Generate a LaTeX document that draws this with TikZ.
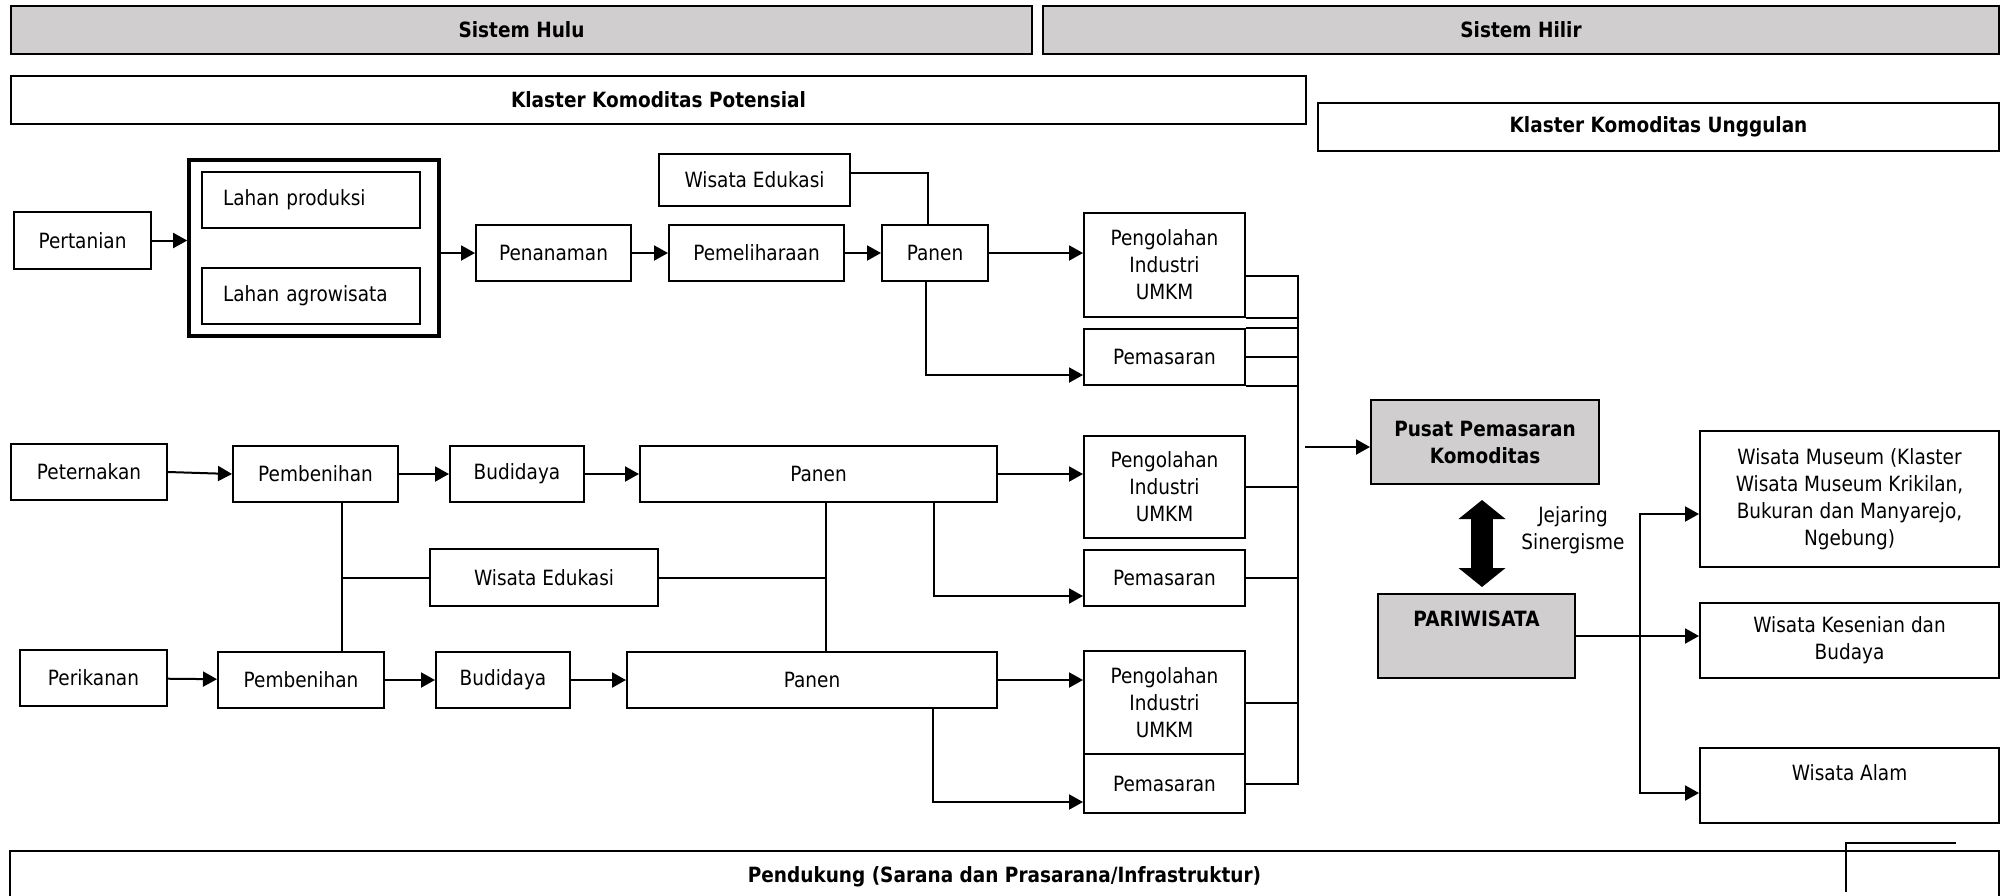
\documentclass[tikz,border=0pt]{standalone}
\usepackage{fontspec}
\setmainfont{DejaVu Sans}[FakeStretch=0.88]
\usepackage{tikz}
\usetikzlibrary{arrows.meta}
\definecolor{boxgrey}{RGB}{208,206,206}

\begin{document}
\begin{tikzpicture}[x=0.5pt,y=-0.5pt,
  font=\fontsize{10.5}{13.5}\selectfont,
  box/.style={draw,line width=1pt,align=center,inner sep=2pt},
  grey/.style={box,fill=boxgrey,font=\fontsize{10.5}{13.5}\selectfont\bfseries},
  head/.style={box,font=\fontsize{10.5}{13.5}\selectfont\bfseries},
  lahanbox/.style={box,text width=88pt,inner xsep=10.5pt,align=left,minimum height=28pt},
  link/.style={line width=1pt},
  arr/.style={link,-{Triangle[length=7pt,width=7.5pt]}},
  dbl/.style={line width=11pt,{Triangle[length=9.5pt,width=23pt]}-{Triangle[length=9.5pt,width=23pt]}}]
\useasboundingbox (0,0) rectangle (2006,895);
\clip (0,0) rectangle (2006,895);

\node[grey,minimum width=510.5pt,minimum height=24pt] (hulu) at (521.5,30) {Sistem Hulu};
\node[grey,minimum width=478pt,minimum height=24pt] (hilir) at (1521,30) {Sistem Hilir};
\node[head,minimum width=647.5pt,minimum height=24pt] (potensial) at (658.5,100) {Klaster Komoditas Potensial};
\node[head,minimum width=340.5pt,minimum height=24pt] (unggulan) at (1658.5,127) {Klaster Komoditas Unggulan};

\node[box,minimum width=68.5pt,minimum height=28.5pt] (pertanian) at (82.5,240.5) {Pertanian};
\node[draw,line width=1.8pt,minimum width=125pt,minimum height=88pt] (lahan) at (314,248) {};
\node[lahanbox] (produksi) at (311,200) {Lahan produksi};
\node[lahanbox] (agro) at (311,296) {Lahan agrowisata};
\node[box,minimum width=77.5pt,minimum height=28pt] (tanam) at (553.5,253) {Penanaman};
\node[box,minimum width=87.5pt,minimum height=28pt] (pelihara) at (756.5,253) {Pemeliharaan};
\node[box,minimum width=53pt,minimum height=28pt] (panenA) at (935,253) {Panen};
\node[box,minimum width=95.5pt,minimum height=26pt] (eduA) at (754.5,180) {Wisata Edukasi};
\node[box,minimum width=80.5pt,minimum height=52pt] (olahA) at (1164.5,265) {Pengolahan\\Industri\\UMKM};
\node[box,minimum width=80.5pt,minimum height=28pt] (pasarA) at (1164.5,357) {Pemasaran};

\node[box,minimum width=78pt,minimum height=28pt] (ternak) at (89,472) {Peternakan};
\node[box,minimum width=82.5pt,minimum height=28pt] (benihA) at (315.5,474) {Pembenihan};
\node[box,minimum width=67pt,minimum height=28pt] (budiA) at (517,474) {Budidaya};
\node[box,minimum width=178.5pt,minimum height=28pt] (panenB) at (818.5,474) {Panen};
\node[box,minimum width=80.5pt,minimum height=51pt] (olahB) at (1164.5,487) {Pengolahan\\Industri\\UMKM};
\node[box,minimum width=80.5pt,minimum height=28pt] (pasarB) at (1164.5,578) {Pemasaran};
\node[box,minimum width=114pt,minimum height=28.5pt] (eduB) at (544,577.5) {Wisata Edukasi};

\node[box,minimum width=73.5pt,minimum height=28pt] (ikan) at (93.5,678) {Perikanan};
\node[box,minimum width=83pt,minimum height=28pt] (benihB) at (301,680) {Pembenihan};
\node[box,minimum width=67pt,minimum height=28pt] (budiB) at (503,680) {Budidaya};
\node[box,minimum width=185pt,minimum height=28pt] (panenC) at (812,680) {Panen};
\node[box,minimum width=80.5pt,minimum height=51.5pt] (olahC) at (1164.5,702.5) {Pengolahan\\Industri\\UMKM};
\node[box,minimum width=80.5pt,minimum height=29.5pt] (pasarC) at (1164.5,783.5) {Pemasaran};

\node[grey,minimum width=114pt,minimum height=42pt] (pusat) at (1485,442) {Pusat Pemasaran\\Komoditas};
\node[grey,minimum width=98.5pt,inner ysep=0pt,text height=16.3pt,text depth=25.7pt] (pari) at (1476.5,636) {PARIWISATA};
\node[align=center] (jejaring) at (1573,530) {Jejaring\\Sinergisme};
\node[box,minimum width=149.5pt,minimum height=68pt] (museum) at (1849.5,499) {Wisata Museum (Klaster\\Wisata Museum Krikilan,\\Bukuran dan Manyarejo,\\Ngebung)};
\node[box,minimum width=149.5pt,minimum height=37.5pt] (seni) at (1849.5,640.5) {Wisata Kesenian dan\\Budaya};
\node[box,minimum width=149.5pt,inner ysep=0pt,text height=16.3pt,text depth=21.2pt] (alam) at (1849.5,785.5) {Wisata Alam};

\node[head,minimum width=994.5pt,minimum height=26pt] (dukung) at (1004.5,877) {Pendukung (Sarana dan Prasarana/Infrastruktur)};

\draw[arr] (pertanian.east) -- (pertanian.east -| lahan.west);
\draw[arr] (lahan.east |- tanam.west) -- (tanam.west);
\draw[arr] (tanam) -- (pelihara);
\draw[arr] (pelihara) -- (panenA);
\draw[link] ([yshift=3.5pt]eduA.east) -| ([xshift=-3.5pt]panenA.north);
\draw[arr] (panenA.east) -- (panenA.east -| olahA.west);
\draw[arr] ([xshift=-4.5pt]panenA.south) |- ([yshift=-9pt]pasarA.west);

\draw[arr] (ternak.east) -- (benihA.west);
\draw[arr] (benihA) -- (budiA);
\draw[arr] (budiA) -- (panenB);
\draw[arr] (panenB.east) -- (panenB.east -| olahB.west);
\draw[arr] (panenB.south -| 934,0) |- ([yshift=-9pt]pasarB.west);

\draw[arr] (ikan) -- (benihB);
\draw[arr] (benihB) -- (budiB);
\draw[arr] (budiB) -- (panenC);
\draw[arr] (panenC.east) -- (panenC.east -| olahC.west);
\draw[arr] (panenC.south -| 933,0) |- ([yshift=-9.25pt]pasarC.west);

\draw[link] (benihA.south -| 342,0) -- (benihB.north -| 342,0);
\draw[link] (eduB.west) -- (eduB.west -| 342,0);
\draw[link] (eduB.east) -- (eduB.east -| 826,0);
\draw[link] (panenB.south -| 826,0) -- (panenC.north -| 826,0);

\coordinate (bus) at (1298,0);
\draw[link] ([yshift=-5.5pt]olahA.east) -| (pasarC.east -| bus) -- (pasarC.east);
\foreach \p in {olahA.south east,pasarA.north east,pasarA.east,pasarA.south east,olahB.east,pasarB.east,olahC.east}
  \draw[link] (\p) -- (\p -| bus);
\coordinate (busOut) at (1305,447);
\draw[arr] (busOut) -- (busOut -| pusat.west);

\draw[dbl,shorten <=7.5pt,shorten >=3pt] (pusat.south -| 1482,0) -- (pari.north -| 1482,0);
\draw[arr] (pari.east) -- (pari.east -| seni.west);
\coordinate (fork) at (1640,0);
\draw[arr] (pari.east -| fork) |- ([yshift=-7.5pt]museum.west);
\draw[arr] (pari.east -| fork) |- ([yshift=-3.75pt]alam.west);

\draw[link] (1956,843) -| (1846,892);
\end{tikzpicture}
\end{document}
